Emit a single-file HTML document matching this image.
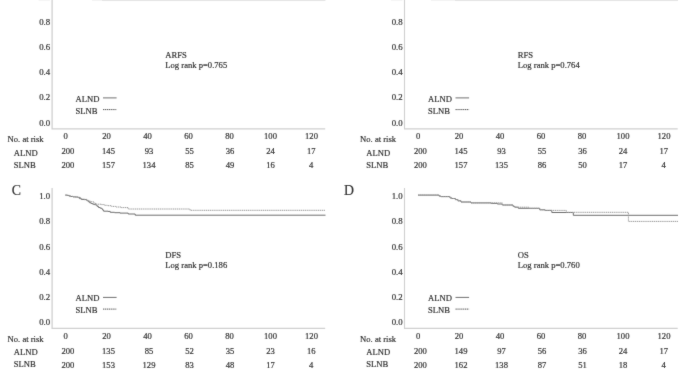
<!DOCTYPE html><html><head><meta charset="utf-8"><style>html,body{margin:0;padding:0;background:#fff;width:685px;height:375px;overflow:hidden}svg{display:block}text{font-family:'Liberation Serif', 'Times New Roman', serif;fill:#333333;stroke:#333333;stroke-width:0.20px}</style></head><body>
<svg width="685" height="375" viewBox="0 0 685 375">
<defs><filter id="bl" x="0" y="0" width="1" height="1" color-interpolation-filters="sRGB"><feConvolveMatrix order="3" kernelMatrix="0.015 0.06 0.015 0.06 0.7 0.06 0.015 0.06 0.015" edgeMode="duplicate"/></filter></defs><g filter="url(#bl)">
<rect width="685" height="375" fill="#fff"/>
<path d="M52.10 -20.00 V128.90 H325.20" fill="none" stroke="#d0d0d0" stroke-width="1.30"/>
<text x="50.20" y="25" font-size="8.8" text-anchor="end">0.8</text>
<text x="50.20" y="50" font-size="8.8" text-anchor="end">0.6</text>
<text x="50.20" y="75" font-size="8.8" text-anchor="end">0.4</text>
<text x="50.20" y="100" font-size="8.8" text-anchor="end">0.2</text>
<text x="50.20" y="126" font-size="8.8" text-anchor="end">0.0</text>
<rect x="92.0" y="0" width="10.0" height="1" fill="#f2f2f2"/>
<rect x="102.0" y="0" width="223.5" height="1" fill="#e2e2e2"/>
<rect x="38.5" y="0" width="11.5" height="1" fill="#f4f4f4"/>
<text x="75.50" y="102" font-size="8.6">ALND</text>
<line x1="103.0" y1="97.90" x2="116.6" y2="97.90" stroke="#707070" stroke-width="1"/>
<text x="75.50" y="114" font-size="8.6">SLNB</text>
<line x1="103.0" y1="109.60" x2="116.6" y2="109.60" stroke="#555555" stroke-width="1" stroke-dasharray="1.3 0.6"/>
<text x="165.30" y="58" font-size="8.6">ARFS</text>
<text x="165.30" y="68" font-size="8.6">Log rank p=0.765</text>
<text x="7.60" y="142" font-size="8.6">No. at risk</text>
<text x="65.60" y="139" font-size="8.6" text-anchor="middle">0</text>
<text x="106.58" y="139" font-size="8.6" text-anchor="middle">20</text>
<text x="147.56" y="139" font-size="8.6" text-anchor="middle">40</text>
<text x="188.54" y="139" font-size="8.6" text-anchor="middle">60</text>
<text x="229.52" y="139" font-size="8.6" text-anchor="middle">80</text>
<text x="270.50" y="139" font-size="8.6" text-anchor="middle">100</text>
<text x="311.48" y="139" font-size="8.6" text-anchor="middle">120</text>
<text x="13.80" y="156" font-size="8.6">ALND</text>
<text x="13.80" y="168" font-size="8.6">SLNB</text>
<text x="67.90" y="154" font-size="8.6" text-anchor="middle">200</text>
<text x="67.90" y="168" font-size="8.6" text-anchor="middle">200</text>
<text x="108.50" y="154" font-size="8.6" text-anchor="middle">145</text>
<text x="108.50" y="168" font-size="8.6" text-anchor="middle">157</text>
<text x="149.00" y="154" font-size="8.6" text-anchor="middle">93</text>
<text x="149.00" y="168" font-size="8.6" text-anchor="middle">134</text>
<text x="189.50" y="154" font-size="8.6" text-anchor="middle">55</text>
<text x="189.50" y="168" font-size="8.6" text-anchor="middle">85</text>
<text x="230.00" y="154" font-size="8.6" text-anchor="middle">36</text>
<text x="230.00" y="168" font-size="8.6" text-anchor="middle">49</text>
<text x="270.50" y="154" font-size="8.6" text-anchor="middle">24</text>
<text x="270.50" y="168" font-size="8.6" text-anchor="middle">16</text>
<text x="311.20" y="154" font-size="8.6" text-anchor="middle">17</text>
<text x="311.20" y="168" font-size="8.6" text-anchor="middle">4</text>
<path d="M404.50 -20.00 V128.90 H677.70" fill="none" stroke="#d0d0d0" stroke-width="1.10"/>
<text x="402.70" y="25" font-size="8.8" text-anchor="end">0.8</text>
<text x="402.70" y="50" font-size="8.8" text-anchor="end">0.6</text>
<text x="402.70" y="75" font-size="8.8" text-anchor="end">0.4</text>
<text x="402.70" y="100" font-size="8.8" text-anchor="end">0.2</text>
<text x="402.70" y="126" font-size="8.8" text-anchor="end">0.0</text>
<rect x="431.0" y="0" width="24.0" height="1" fill="#f2f2f2"/>
<rect x="455.0" y="0" width="223.0" height="1" fill="#e2e2e2"/>
<rect x="391.0" y="0" width="11.5" height="1" fill="#f4f4f4"/>
<text x="428.00" y="102" font-size="8.6">ALND</text>
<line x1="455.5" y1="97.90" x2="469.1" y2="97.90" stroke="#707070" stroke-width="1"/>
<text x="428.00" y="114" font-size="8.6">SLNB</text>
<line x1="455.5" y1="109.60" x2="469.1" y2="109.60" stroke="#555555" stroke-width="1" stroke-dasharray="1.3 0.6"/>
<text x="517.80" y="58" font-size="8.6">RFS</text>
<text x="517.80" y="68" font-size="8.6">Log rank p=0.764</text>
<text x="360.10" y="142" font-size="8.6">No. at risk</text>
<text x="418.10" y="139" font-size="8.6" text-anchor="middle">0</text>
<text x="459.08" y="139" font-size="8.6" text-anchor="middle">20</text>
<text x="500.06" y="139" font-size="8.6" text-anchor="middle">40</text>
<text x="541.04" y="139" font-size="8.6" text-anchor="middle">60</text>
<text x="582.02" y="139" font-size="8.6" text-anchor="middle">80</text>
<text x="623.00" y="139" font-size="8.6" text-anchor="middle">100</text>
<text x="663.98" y="139" font-size="8.6" text-anchor="middle">120</text>
<text x="366.30" y="156" font-size="8.6">ALND</text>
<text x="366.30" y="168" font-size="8.6">SLNB</text>
<text x="420.40" y="154" font-size="8.6" text-anchor="middle">200</text>
<text x="420.40" y="168" font-size="8.6" text-anchor="middle">200</text>
<text x="461.00" y="154" font-size="8.6" text-anchor="middle">145</text>
<text x="461.00" y="168" font-size="8.6" text-anchor="middle">157</text>
<text x="501.50" y="154" font-size="8.6" text-anchor="middle">93</text>
<text x="501.50" y="168" font-size="8.6" text-anchor="middle">135</text>
<text x="542.00" y="154" font-size="8.6" text-anchor="middle">55</text>
<text x="542.00" y="168" font-size="8.6" text-anchor="middle">86</text>
<text x="582.50" y="154" font-size="8.6" text-anchor="middle">36</text>
<text x="582.50" y="168" font-size="8.6" text-anchor="middle">50</text>
<text x="623.00" y="154" font-size="8.6" text-anchor="middle">24</text>
<text x="623.00" y="168" font-size="8.6" text-anchor="middle">17</text>
<text x="663.70" y="154" font-size="8.6" text-anchor="middle">17</text>
<text x="663.70" y="168" font-size="8.6" text-anchor="middle">4</text>
<path d="M52.10 188.00 V328.40 H325.20" fill="none" stroke="#d0d0d0" stroke-width="1.30"/>
<text x="50.20" y="199" font-size="8.8" text-anchor="end">1.0</text>
<text x="50.20" y="224" font-size="8.8" text-anchor="end">0.8</text>
<text x="50.20" y="250" font-size="8.8" text-anchor="end">0.6</text>
<text x="50.20" y="275" font-size="8.8" text-anchor="end">0.4</text>
<text x="50.20" y="300" font-size="8.8" text-anchor="end">0.2</text>
<text x="50.20" y="325" font-size="8.8" text-anchor="end">0.0</text>
<path d="M65.30 195.10 H67.00 V195.40 H69.30 V196.20 H71.00 V196.50 H73.00 V196.90 H75.00 V197.00 H77.70 V197.30 H79.50 V198.60 H81.30 V199.50 H84.00 V199.60 H86.80 V200.60 H88.20 V201.70 H89.70 V202.80 H91.20 V203.50 H92.70 V204.20 H94.20 V204.60 H95.60 V205.00 H97.00 V206.30 H98.50 V207.50 H100.20 V208.20 H101.80 V209.00 H102.70 V210.10 H103.60 V211.20 H108.00 V211.40 H110.20 V212.30 H114.60 V212.70 H120.00 V213.10 H128.20 V214.00 H135.20 V215.20 H325.50 V215.20" fill="none" stroke="#6e6e6e" stroke-width="1"/>
<path d="M65.30 195.10 H68.00 V195.70 H70.50 V196.30 H73.50 V196.80 H76.00 V197.00 H78.50 V197.80 H81.00 V199.00 H84.50 V199.40 H86.80 V200.40 H89.00 V201.30 H91.20 V201.70 H93.50 V203.00 H95.60 V204.00 H97.00 V204.20 H101.40 V204.60 H104.30 V205.30 H107.30 V205.70 H111.60 V206.40 H115.70 V207.00 H121.00 V207.60 H128.20 V209.00 H190.00 V210.30 H325.50 V210.30" fill="none" stroke="#9a9a9a" stroke-width="1" stroke-dasharray="1.3 0.6"/>
<text x="75.50" y="301" font-size="8.6">ALND</text>
<line x1="103.0" y1="297.40" x2="116.6" y2="297.40" stroke="#707070" stroke-width="1"/>
<text x="75.50" y="313" font-size="8.6">SLNB</text>
<line x1="103.0" y1="309.10" x2="116.6" y2="309.10" stroke="#555555" stroke-width="1" stroke-dasharray="1.3 0.6"/>
<text x="165.30" y="258" font-size="8.6">DFS</text>
<text x="165.30" y="268" font-size="8.6">Log rank p=0.186</text>
<text x="7.60" y="342" font-size="8.6">No. at risk</text>
<text x="65.60" y="339" font-size="8.6" text-anchor="middle">0</text>
<text x="106.58" y="339" font-size="8.6" text-anchor="middle">20</text>
<text x="147.56" y="339" font-size="8.6" text-anchor="middle">40</text>
<text x="188.54" y="339" font-size="8.6" text-anchor="middle">60</text>
<text x="229.52" y="339" font-size="8.6" text-anchor="middle">80</text>
<text x="270.50" y="339" font-size="8.6" text-anchor="middle">100</text>
<text x="311.48" y="339" font-size="8.6" text-anchor="middle">120</text>
<text x="13.80" y="355" font-size="8.6">ALND</text>
<text x="13.80" y="367" font-size="8.6">SLNB</text>
<text x="67.90" y="354" font-size="8.6" text-anchor="middle">200</text>
<text x="67.90" y="368" font-size="8.6" text-anchor="middle">200</text>
<text x="108.50" y="354" font-size="8.6" text-anchor="middle">135</text>
<text x="108.50" y="368" font-size="8.6" text-anchor="middle">153</text>
<text x="149.00" y="354" font-size="8.6" text-anchor="middle">85</text>
<text x="149.00" y="368" font-size="8.6" text-anchor="middle">129</text>
<text x="189.50" y="354" font-size="8.6" text-anchor="middle">52</text>
<text x="189.50" y="368" font-size="8.6" text-anchor="middle">83</text>
<text x="230.00" y="354" font-size="8.6" text-anchor="middle">35</text>
<text x="230.00" y="368" font-size="8.6" text-anchor="middle">48</text>
<text x="270.50" y="354" font-size="8.6" text-anchor="middle">23</text>
<text x="270.50" y="368" font-size="8.6" text-anchor="middle">17</text>
<text x="311.20" y="354" font-size="8.6" text-anchor="middle">16</text>
<text x="311.20" y="368" font-size="8.6" text-anchor="middle">4</text>
<path d="M404.50 188.00 V328.40 H677.70" fill="none" stroke="#d0d0d0" stroke-width="1.10"/>
<text x="402.70" y="199" font-size="8.8" text-anchor="end">1.0</text>
<text x="402.70" y="224" font-size="8.8" text-anchor="end">0.8</text>
<text x="402.70" y="250" font-size="8.8" text-anchor="end">0.6</text>
<text x="402.70" y="275" font-size="8.8" text-anchor="end">0.4</text>
<text x="402.70" y="300" font-size="8.8" text-anchor="end">0.2</text>
<text x="402.70" y="325" font-size="8.8" text-anchor="end">0.0</text>
<path d="M418.00 195.10 H439.10 V196.10 H440.80 V196.60 H450.00 V197.90 H451.80 V198.50 H455.30 V199.60 H457.90 V200.80 H461.00 V202.00 H471.00 V202.90 H491.30 V203.40 H497.30 V204.00 H502.30 V205.00 H513.00 V206.40 H514.80 V207.20 H518.30 V208.30 H539.70 V209.80 H545.00 V210.40 H551.80 V212.50 H573.30 V215.30 H678.00 V215.30" fill="none" stroke="#6e6e6e" stroke-width="1"/>
<path d="M418.00 195.10 H439.10 V196.10 H440.80 V196.60 H450.00 V197.90 H451.80 V198.50 H455.30 V199.60 H457.90 V200.80 H461.00 V202.00 H471.00 V202.90 H502.30 V205.00 H513.00 V206.40 H514.80 V207.20 H528.80 V208.30 H539.70 V209.80 H545.00 V210.40 H566.30 V212.30 H628.40 V221.40 H678.00 V221.40" fill="none" stroke="#9a9a9a" stroke-width="1" stroke-dasharray="1.3 0.6"/>
<text x="428.00" y="301" font-size="8.6">ALND</text>
<line x1="455.5" y1="297.40" x2="469.1" y2="297.40" stroke="#707070" stroke-width="1"/>
<text x="428.00" y="313" font-size="8.6">SLNB</text>
<line x1="455.5" y1="309.10" x2="469.1" y2="309.10" stroke="#555555" stroke-width="1" stroke-dasharray="1.3 0.6"/>
<text x="517.80" y="258" font-size="8.6">OS</text>
<text x="517.80" y="268" font-size="8.6">Log rank p=0.760</text>
<text x="360.10" y="342" font-size="8.6">No. at risk</text>
<text x="418.10" y="339" font-size="8.6" text-anchor="middle">0</text>
<text x="459.08" y="339" font-size="8.6" text-anchor="middle">20</text>
<text x="500.06" y="339" font-size="8.6" text-anchor="middle">40</text>
<text x="541.04" y="339" font-size="8.6" text-anchor="middle">60</text>
<text x="582.02" y="339" font-size="8.6" text-anchor="middle">80</text>
<text x="623.00" y="339" font-size="8.6" text-anchor="middle">100</text>
<text x="663.98" y="339" font-size="8.6" text-anchor="middle">120</text>
<text x="366.30" y="355" font-size="8.6">ALND</text>
<text x="366.30" y="367" font-size="8.6">SLNB</text>
<text x="420.40" y="354" font-size="8.6" text-anchor="middle">200</text>
<text x="420.40" y="368" font-size="8.6" text-anchor="middle">200</text>
<text x="461.00" y="354" font-size="8.6" text-anchor="middle">149</text>
<text x="461.00" y="368" font-size="8.6" text-anchor="middle">162</text>
<text x="501.50" y="354" font-size="8.6" text-anchor="middle">97</text>
<text x="501.50" y="368" font-size="8.6" text-anchor="middle">138</text>
<text x="542.00" y="354" font-size="8.6" text-anchor="middle">56</text>
<text x="542.00" y="368" font-size="8.6" text-anchor="middle">87</text>
<text x="582.50" y="354" font-size="8.6" text-anchor="middle">36</text>
<text x="582.50" y="368" font-size="8.6" text-anchor="middle">51</text>
<text x="623.00" y="354" font-size="8.6" text-anchor="middle">24</text>
<text x="623.00" y="368" font-size="8.6" text-anchor="middle">18</text>
<text x="663.70" y="354" font-size="8.6" text-anchor="middle">17</text>
<text x="663.70" y="368" font-size="8.6" text-anchor="middle">4</text>
<text x="11.8" y="195" font-size="13.8">C</text>
<text x="344.1" y="195" font-size="13.8">D</text>
</g></svg></body></html>
